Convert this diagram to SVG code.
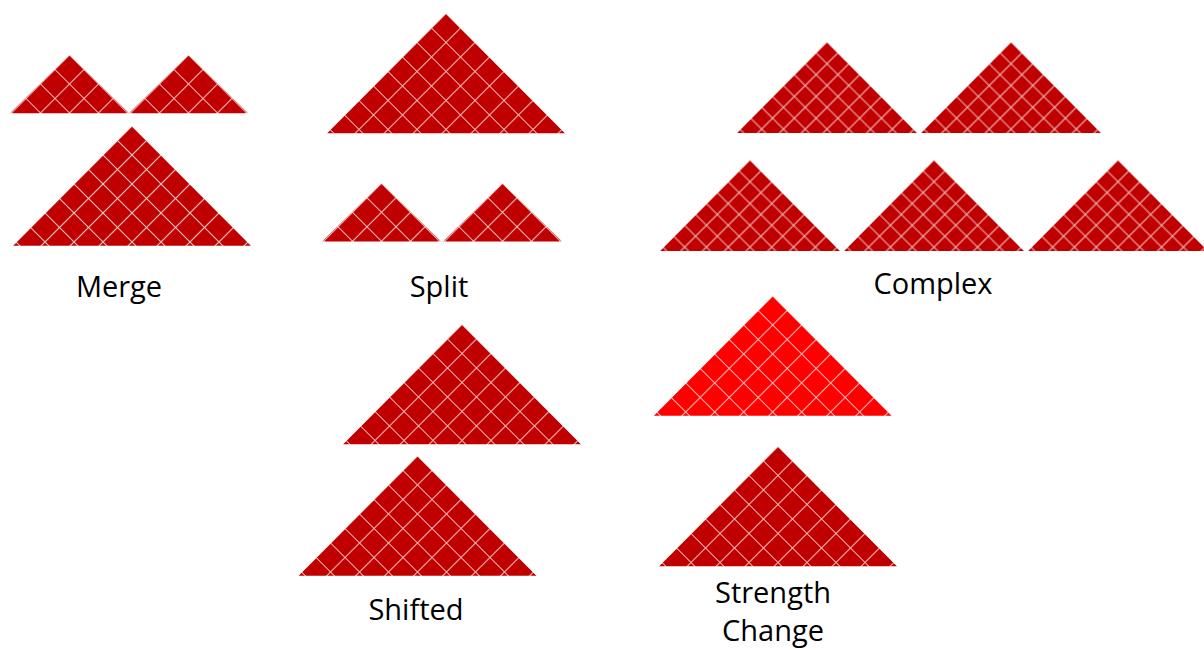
<svg xmlns="http://www.w3.org/2000/svg" width="1204" height="650" viewBox="0 0 1204 650">
<style>
text{font-family:"Open Sans","Liberation Sans",sans-serif;font-size:29px;fill:#000;text-anchor:middle}
.gl{stroke:#ffffff;stroke-opacity:0.75;stroke-width:1.1;fill:none}
</style>
<defs>
<pattern id="pd" patternUnits="userSpaceOnUse" width="20.5" height="20.5" patternTransform="rotate(45) translate(-10.25,-10.25)">
<rect width="20.5" height="20.5" fill="#c00000"/><path class="gl" d="M0 10.25H20.5M10.25 0V20.5"/>
</pattern>
<pattern id="pb" patternUnits="userSpaceOnUse" width="20.5" height="20.5" patternTransform="rotate(45) translate(-10.25,-10.25)">
<rect width="20.5" height="20.5" fill="#ff0000"/><path class="gl" d="M0 10.25H20.5M10.25 0V20.5"/>
</pattern>
<pattern id="ps" patternUnits="userSpaceOnUse" width="15.4" height="15.4" patternTransform="rotate(45) translate(-7.7,-7.7)">
<rect width="15.4" height="15.4" fill="#c00000"/><path class="gl" d="M0 7.7H15.4M7.7 0V15.4"/>
</pattern>
<path id="big" d="M0 0L119 119.7H-119Z"/>
<path id="small" d="M0 0L59.5 58.3H-59.5Z"/>
<path id="cx" d="M0 0L90 91H-90Z"/>
</defs>
<g id="merge">
<g transform="translate(69.5,55)"><use href="#small" fill="url(#pd)"/></g>
<g transform="translate(188.5,55)"><use href="#small" fill="url(#pd)"/></g>
<g transform="translate(132,126)"><use href="#big" fill="url(#pd)"/></g>
<text x="119" y="297">Merge</text>
</g>
<g id="split">
<g transform="translate(446,13.5)"><use href="#big" fill="url(#pd)"/></g>
<g transform="translate(381.5,183.3)"><use href="#small" fill="url(#pd)"/></g>
<g transform="translate(502.5,183.3)"><use href="#small" fill="url(#pd)"/></g>
<text x="439" y="297">Split</text>
</g>
<g id="complex">
<g transform="translate(827,42)"><use href="#cx" fill="url(#ps)"/></g>
<g transform="translate(1011,42)"><use href="#cx" fill="url(#ps)"/></g>
<g transform="translate(750,160)"><use href="#cx" fill="url(#ps)"/></g>
<g transform="translate(934,160)"><use href="#cx" fill="url(#ps)"/></g>
<g transform="translate(1118,160)"><use href="#cx" fill="url(#ps)"/></g>
<text x="933" y="294">Complex</text>
</g>
<g id="shifted">
<g transform="translate(462,324.5)"><use href="#big" fill="url(#pd)"/></g>
<g transform="translate(417.5,456)"><use href="#big" fill="url(#pd)"/></g>
<text x="416" y="620">Shifted</text>
</g>
<g id="strength">
<g transform="translate(772.7,296)"><use href="#big" fill="url(#pb)"/></g>
<g transform="translate(778,446.5)"><use href="#big" fill="url(#pd)"/></g>
<text x="773" y="603">Strength</text>
<text x="773" y="641">Change</text>
</g>
<g id="connectors"/>
</svg>
